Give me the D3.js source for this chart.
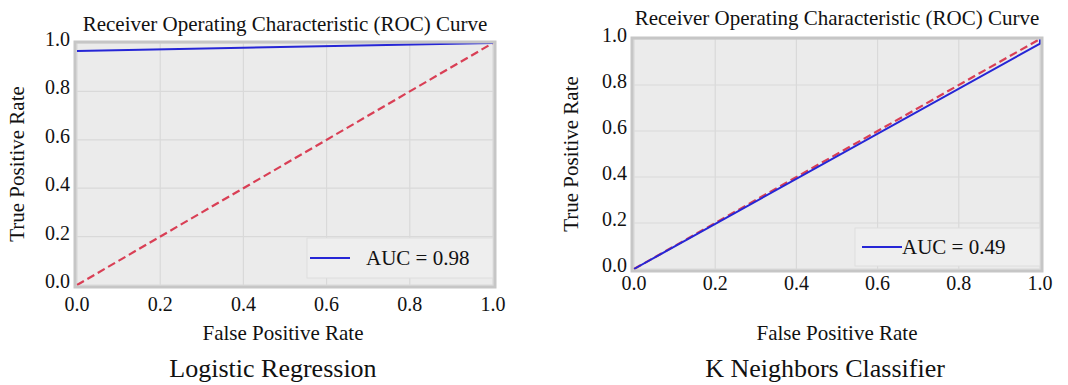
<!DOCTYPE html>
<html>
<head>
<meta charset="utf-8">
<script src="https://cdn.jsdelivr.net/npm/d3@7"></script>
<style>
  body { margin: 0; background: #fff; }
  text { font-family: "Liberation Serif", "Times New Roman", serif; fill: #111; }
</style>
</head>
<body>
<svg id="chart" width="1068" height="385"></svg>
<script>
// ROC points
const logRegFpr = [0, 1];
const logRegTpr = [0.967, 1];
const knnFpr = [0, 1, 1];
const knnTpr = [0, 0.98, 1];
const chanceFpr = [0, 1];
const chanceTpr = [0, 1];
const tickValues = [0, 0.2, 0.4, 0.6, 0.8, 1.0];
const aucLabels = ["AUC = 0.98", "AUC = 0.49"];
const modelNames = ["Logistic Regression", "K Neighbors Classifier"];
const chartTitle = "Receiver Operating Characteristic (ROC) Curve";

const panels = [
  { fpr: logRegFpr, tpr: logRegTpr, auc: aucLabels[0], name: modelNames[0],
    x0: 77, x1: 493, y0: 285, y1: 43, titleY: 31, xTickY: 311, ylabX: 24,
    legend: { x: 307, y: 238, w: 186, h: 40, lineX: 310, lineW: 40, textX: 366 } },
  { fpr: knnFpr, tpr: knnTpr, auc: aucLabels[1], name: modelNames[1],
    x0: 634, x1: 1040, y0: 269, y1: 39, titleY: 25, xTickY: 290, ylabX: 578,
    legend: { x: 855, y: 228, w: 185, h: 38, lineX: 862, lineW: 40, textX: 902 } }
];

const svg = d3.select("#chart");

panels.forEach((p, i) => {
  let x = d3.scaleLinear().domain([0, 1]).range([p.x0, p.x1]);
  let y = d3.scaleLinear().domain([0, 1]).range([p.y0, p.y1]);
  let g = svg.append("g");

  // plot background
  g.append("rect")
    .attr("x", p.x0 - 2).attr("y", p.y1 - 1)
    .attr("width", p.x1 - p.x0 + 4).attr("height", p.y0 - p.y1 + 3)
    .attr("fill", "#ebebeb");

  // grid
  g.selectAll(".gx").data(tickValues).enter().append("line")
    .attr("x1", d => x(d)).attr("x2", d => x(d))
    .attr("y1", p.y1).attr("y2", p.y0)
    .attr("stroke", "#d9d9d9").attr("stroke-width", 1.2);
  g.selectAll(".gy").data(tickValues).enter().append("line")
    .attr("y1", d => y(d)).attr("y2", d => y(d))
    .attr("x1", p.x0).attr("x2", p.x1)
    .attr("stroke", "#d9d9d9").attr("stroke-width", 1.2);

  // legend box
  g.append("rect")
    .attr("x", p.legend.x).attr("y", p.legend.y)
    .attr("width", p.legend.w).attr("height", p.legend.h)
    .attr("fill", "#eeeeee").attr("stroke", "#dedede");

  let line = d3.line().x(d => x(d[0])).y(d => y(d[1]));

  g.append("path")
    .datum(d3.zip(chanceFpr, chanceTpr))
    .attr("d", line)
    .attr("fill", "none")
    .attr("stroke", "#d93f55")
    .attr("stroke-width", 2.2)
    .attr("stroke-dasharray", "8,4");

  g.append("path")
    .datum(d3.zip(p.fpr, p.tpr))
    .attr("d", line)
    .attr("fill", "none")
    .attr("stroke", "#2626d6")
    .attr("stroke-width", 2);

  // frame
  g.append("rect")
    .attr("x", p.x0 - 2).attr("y", p.y1 - 1)
    .attr("width", p.x1 - p.x0 + 4).attr("height", p.y0 - p.y1 + 3)
    .attr("fill", "none").attr("stroke", "#c6c6c6").attr("stroke-width", 3);

  // legend entry
  let ly = p.legend.y + p.legend.h / 2;
  g.append("line")
    .attr("x1", p.legend.lineX).attr("x2", p.legend.lineX + p.legend.lineW)
    .attr("y1", ly).attr("y2", ly)
    .attr("stroke", "#2626d6").attr("stroke-width", 2);
  g.append("text")
    .attr("x", p.legend.textX).attr("y", ly + 7)
    .style("font-size", "21px")
    .text(p.auc);

  // tick labels
  g.selectAll(".ty").data(tickValues).enter().append("text")
    .attr("x", p.x0 - 7).attr("y", d => y(d) + 3)
    .attr("text-anchor", "end")
    .style("font-size", "20px")
    .text(d3.format(".1f"));
  g.selectAll(".tx").data(tickValues).enter().append("text")
    .attr("x", d => x(d)).attr("y", p.xTickY)
    .attr("text-anchor", "middle")
    .style("font-size", "20px")
    .text(d3.format(".1f"));

  // titles and axis labels
  g.append("text")
    .attr("x", (p.x0 + p.x1) / 2).attr("y", p.titleY)
    .attr("text-anchor", "middle")
    .style("font-size", "21px")
    .text(chartTitle);
  g.append("text")
    .attr("x", (p.x0 + p.x1) / 2 - (i == 0 ? 2 : 0)).attr("y", 340)
    .attr("text-anchor", "middle")
    .style("font-size", "21px")
    .text("False Positive Rate");
  g.append("text")
    .attr("transform", "translate(" + p.ylabX + "," + ((p.y0 + p.y1) / 2) + ") rotate(-90)")
    .attr("text-anchor", "middle")
    .style("font-size", "21px")
    .text("True Positive Rate");
  g.append("text")
    .attr("x", (p.x0 + p.x1) / 2 - 12).attr("y", 377)
    .attr("text-anchor", "middle")
    .style("font-size", "26px")
    .text(p.name);
});
</script>
</body>
</html>
